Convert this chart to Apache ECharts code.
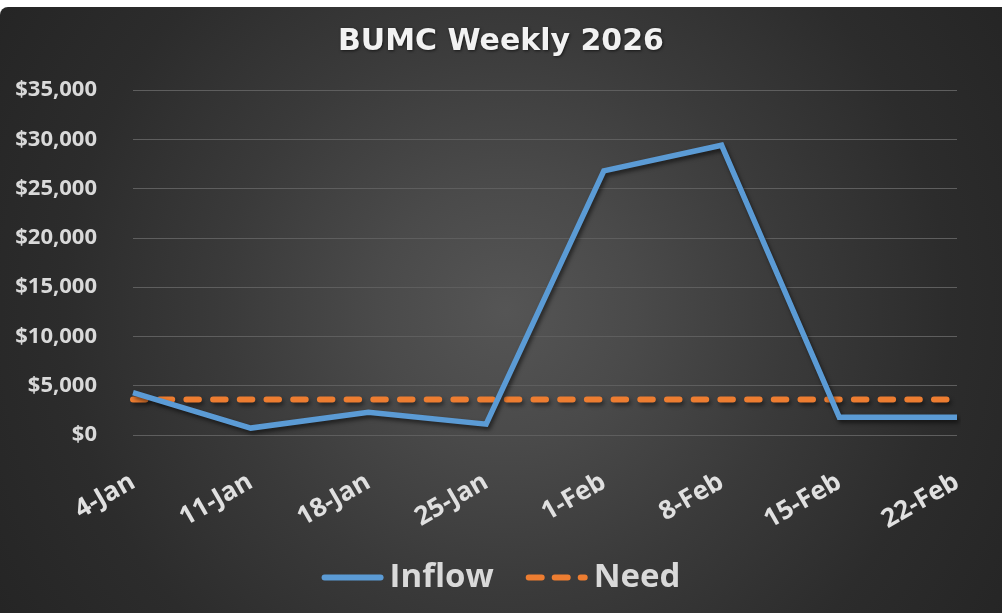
<!DOCTYPE html>
<html>
<head>
<meta charset="utf-8">
<script src="https://cdn.jsdelivr.net/npm/echarts@6/dist/echarts.min.js"></script>
<style>
html,body{margin:0;padding:0;background:#ffffff;width:1002px;height:613px;overflow:hidden;}
#wrap{position:absolute;left:0;top:7px;width:1002px;height:606px;border-radius:8px 0 0 0;
background:radial-gradient(circle at 50.5% 50%, #555555 0%, #4a4a4a 22%, #3a3a3a 48%, #2c2c2c 75%, #252525 100%);}
#chart{width:1002px;height:606px;}
</style>
</head>
<body>
<div id="wrap"><div id="chart"></div></div>
<script>
const categories = ['4-Jan','11-Jan','18-Jan','25-Jan','1-Feb','8-Feb','15-Feb','22-Feb'];
const inflow = [4300, 700, 2300, 1100, 26800, 29400, 1800, 1800];
const need = [3600, 3600, 3600, 3600, 3600, 3600, 3600, 3600];
const yMin = 0, yMax = 35000, yInterval = 5000;

const solidIcon = 'path://M3,0 H59 A3,3 0 0 1 59,6 H3 A3,3 0 0 1 3,0 Z';
const dashIcon = 'path://M3,0 H16 A3,3 0 0 1 16,6 H3 A3,3 0 0 1 3,0 Z M29,0 H42 A3,3 0 0 1 42,6 H29 A3,3 0 0 1 29,0 Z M55,0 H59 A3,3 0 0 1 59,6 H55 A3,3 0 0 1 55,0 Z';

const chart = echarts.init(document.getElementById('chart'), null, {renderer:'canvas'});
chart.setOption({
  backgroundColor: 'transparent',
  animation: false,
  title: {
    text: 'BUMC Weekly 2026',
    left: 'center',
    top: 15,
    textStyle: {
      color: '#f2f2f2', fontFamily: 'DejaVu Sans', fontWeight: 'bold', fontSize: 30,
      textShadowColor: 'rgba(0,0,0,0.6)', textShadowBlur: 3, textShadowOffsetX: 1, textShadowOffsetY: 1
    }
  },
  legend: {
    bottom: 14,
    left: 'center',
    itemWidth: 62,
    itemHeight: 6,
    itemGap: 32,
    textStyle: { color: '#d9d9d9', fontFamily: 'Open Sans', fontWeight: 'bold', fontSize: 33, padding: [0,0,0,1] },
    data: [
      { name: 'Inflow', icon: solidIcon, itemStyle: { color: '#5b9bd5' } },
      { name: 'Need', icon: dashIcon, itemStyle: { color: '#ed7d31' } }
    ]
  },
  grid: { left: 133, right: 45, top: 83, bottom: 178, containLabel: false },
  xAxis: {
    type: 'category',
    data: categories,
    boundaryGap: false,
    axisLine: { show: false },
    axisTick: { show: false },
    axisLabel: {
      color: '#e0e0e0', fontFamily: 'Open Sans', fontWeight: 'bold', fontSize: 26,
      rotate: 30, margin: 45, interval: 0
    }
  },
  yAxis: {
    type: 'value',
    min: yMin, max: yMax, interval: yInterval,
    axisLine: { show: false },
    axisTick: { show: false },
    splitLine: { lineStyle: { color: '#5e5e5e', width: 1 } },
    axisLabel: {
      color: '#d9d9d9', fontFamily: 'Open Sans', fontWeight: 'bold', fontSize: 22, margin: 36,
      formatter: v => '$' + v.toLocaleString('en-US')
    }
  },
  series: [
    {
      name: 'Inflow', type: 'line', data: inflow, symbol: 'none', z: 3,
      itemStyle: { color: '#5b9bd5' },
      lineStyle: { color: '#5b9bd5', width: 5.5, join: 'miter',
        shadowColor: 'rgba(0,0,0,0.55)', shadowBlur: 4, shadowOffsetX: 2, shadowOffsetY: 3 }
    },
    {
      name: 'Need', type: 'line', data: need, symbol: 'none', z: 2,
      itemStyle: { color: '#ed7d31' },
      lineStyle: { color: '#ed7d31', width: 6, type: [12.5, 14.2], cap: 'round',
        shadowColor: 'rgba(0,0,0,0.45)', shadowBlur: 4, shadowOffsetX: 2, shadowOffsetY: 3 }
    }
  ]
});
</script>
</body>
</html>
